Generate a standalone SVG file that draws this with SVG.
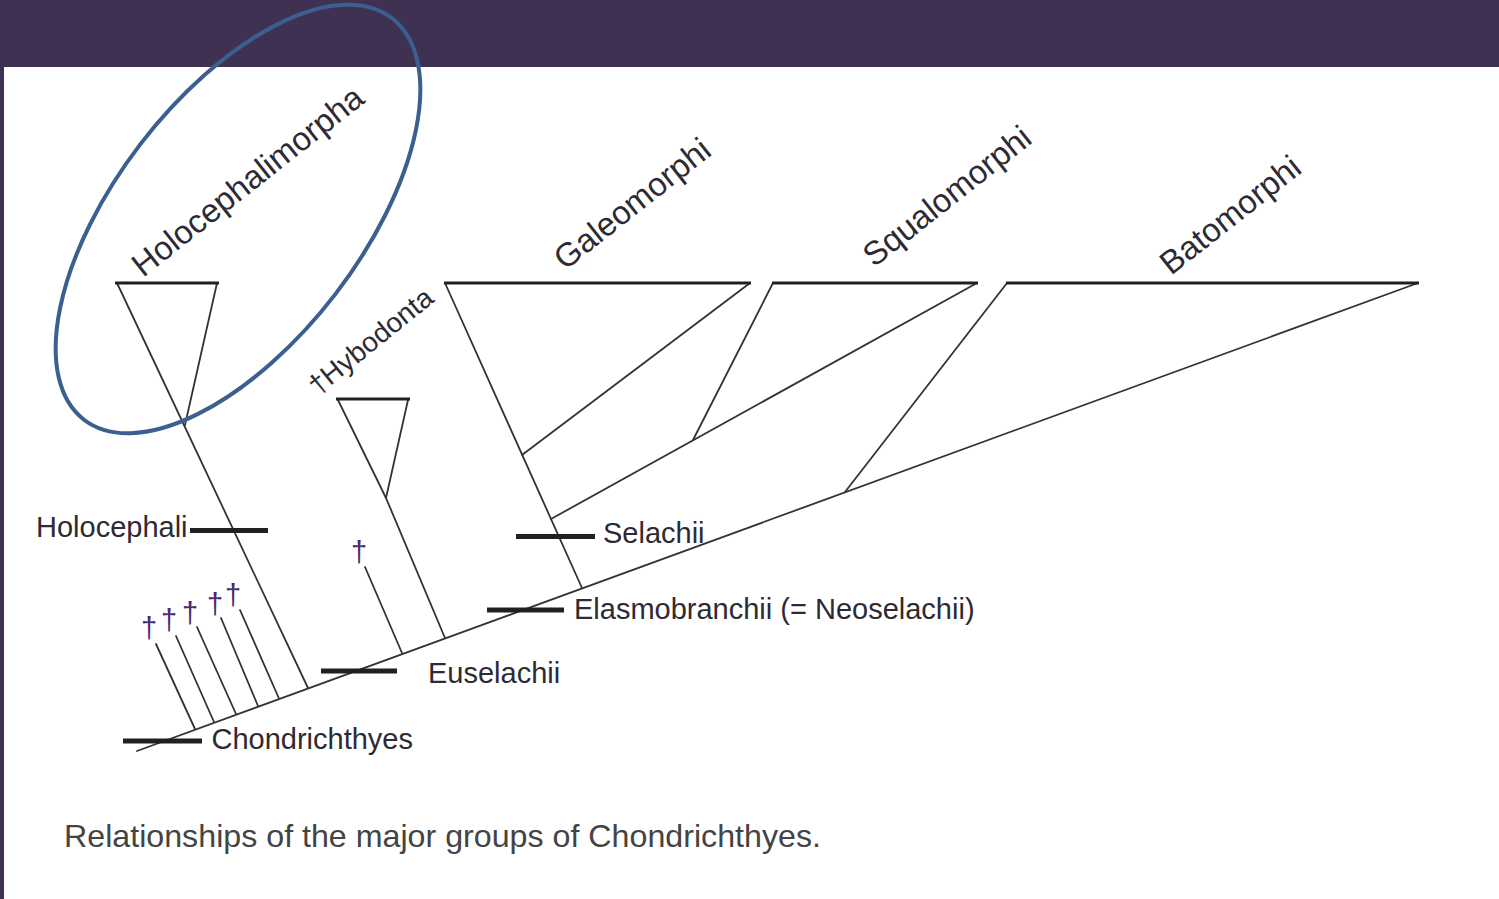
<svg xmlns="http://www.w3.org/2000/svg" width="1499" height="899" viewBox="0 0 1499 899">
<style>
.ln{stroke:#333;stroke-width:1.8;fill:none;stroke-linecap:round}
.top{stroke:#231f20;stroke-width:2.8;fill:none}
.bar{stroke:#231f20;stroke-width:5;fill:none}
.lb{font-family:"Liberation Sans",Arial,sans-serif;font-size:29px;fill:#2e2a33}
.rl{font-family:"Liberation Sans",Arial,sans-serif;font-size:33px;fill:#2e2a33}
.dg{font-family:"Liberation Sans",Arial,sans-serif;font-size:29px;fill:#4a2b6b;text-anchor:middle}
.cap{font-family:"Liberation Sans",Arial,sans-serif;font-size:32px;fill:#444}
</style>
<rect x="0" y="0" width="1499" height="899" fill="#ffffff"/>
<rect x="0" y="0" width="1499" height="67" fill="#3f3152"/>
<rect x="0" y="0" width="4" height="899" fill="#3f3152"/>

<g id="connectors">
<line class="ln" x1="137" y1="751" x2="1418" y2="283"/>
<line class="ln" x1="117" y1="283" x2="308" y2="688"/>
<line class="ln" x1="217" y1="283" x2="185" y2="425"/>
<line class="ln" x1="156" y1="644" x2="195" y2="729"/>
<line class="ln" x1="176" y1="636" x2="214" y2="722"/>
<line class="ln" x1="197" y1="627" x2="236" y2="714"/>
<line class="ln" x1="221" y1="618" x2="258" y2="706"/>
<line class="ln" x1="240" y1="610" x2="279" y2="698.5"/>
<line class="ln" x1="365" y1="567" x2="402" y2="653"/>
<line class="ln" x1="338" y1="400" x2="386" y2="498"/>
<line class="ln" x1="408" y1="400" x2="386" y2="498"/>
<line class="ln" x1="386" y1="498" x2="445" y2="638"/>
<line class="ln" x1="445" y1="283" x2="582" y2="588"/>
<line class="ln" x1="750" y1="283" x2="522" y2="455"/>
<line class="ln" x1="773" y1="283" x2="693" y2="440"/>
<line class="ln" x1="977" y1="283" x2="551" y2="519"/>
<line class="ln" x1="1007" y1="283" x2="845" y2="492"/>
</g>

<g id="holocephalimorpha">
<line class="top" x1="115" y1="283" x2="219" y2="283"/>
<text class="rl" transform="translate(143,278) rotate(-38.3)">Holocephalimorpha</text>
<ellipse cx="238" cy="219" rx="253" ry="123" transform="rotate(-52.5 238 219)" fill="none" stroke="#3b6090" stroke-width="4"/>
</g>

<g id="hybodonta">
<line class="top" x1="336" y1="399" x2="410" y2="399"/>
<text class="lb" transform="translate(318,396) rotate(-39)" style="font-size:28px">†Hybodonta</text>
</g>

<g id="galeomorphi">
<line class="top" x1="444" y1="283" x2="751" y2="283"/>
<text class="rl" transform="translate(565,271) rotate(-38.3)">Galeomorphi</text>
</g>

<g id="squalomorphi">
<line class="top" x1="772" y1="283" x2="978" y2="283"/>
<text class="rl" transform="translate(874,268) rotate(-38.3)">Squalomorphi</text>
</g>

<g id="batomorphi">
<line class="top" x1="1006" y1="283" x2="1419" y2="283"/>
<text class="rl" transform="translate(1171,276) rotate(-38.3)">Batomorphi</text>
</g>

<g id="holocephali">
<line class="bar" x1="190" y1="530.5" x2="268" y2="530.5"/>
<text class="lb" x="36" y="537">Holocephali</text>
</g>

<g id="chondrichthyes">
<line class="bar" x1="123" y1="741" x2="202" y2="741"/>
<text class="lb" x="211.5" y="749">Chondrichthyes</text>
</g>

<g id="euselachii">
<line class="bar" x1="321" y1="671" x2="397" y2="671"/>
<text class="lb" x="428" y="683">Euselachii</text>
</g>

<g id="elasmobranchii">
<line class="bar" x1="487" y1="610" x2="564" y2="610"/>
<text class="lb" x="574" y="619">Elasmobranchii (= Neoselachii)</text>
</g>

<g id="selachii">
<line class="bar" x1="516" y1="536.5" x2="595" y2="536.5"/>
<text class="lb" x="603" y="543">Selachii</text>
</g>

<g id="extinct">
<text class="dg" x="149" y="638">†</text>
<text class="dg" x="169" y="630">†</text>
<text class="dg" x="190" y="623">†</text>
<text class="dg" x="215" y="614">†</text>
<text class="dg" x="233" y="605">†</text>
<text class="dg" x="359" y="562">†</text>
</g>

<g id="caption">
<text class="cap" x="64" y="847" textLength="757" lengthAdjust="spacingAndGlyphs">Relationships of the major groups of Chondrichthyes.</text>
</g>
</svg>
